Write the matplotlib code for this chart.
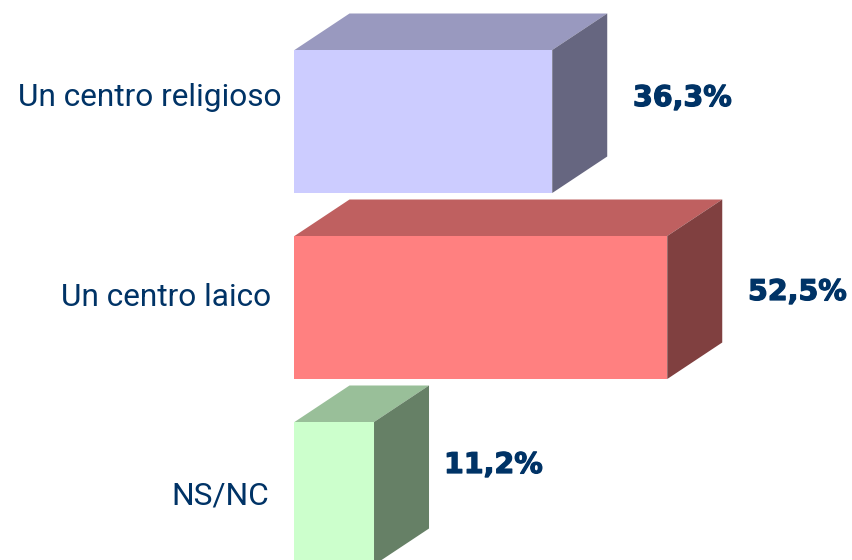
import matplotlib
matplotlib.use("Agg")
import matplotlib.pyplot as plt
import matplotlib.patheffects as pe
from matplotlib.patches import Polygon

categories = ["Un centro religioso", "Un centro laico", "NS/NC"]
values = [36.3, 52.5, 11.2]
value_labels = ["36,3%", "52,5%", "11,2%"]
front_colors = ["#CCCCFF", "#FF8080", "#CCFFCC"]
top_colors = ["#9999BF", "#BF6060", "#99BF99"]
side_colors = ["#666680", "#804040", "#668066"]

W, H = 852, 560
PX_PER_UNIT = 7.1
PX_PER_ROW = 186.0
X0 = 294.5
Y0 = 121.5
BAR_H = 143 / PX_PER_ROW
DX = 55 / PX_PER_UNIT
DY = 36.5 / PX_PER_ROW
TEXT_COLOR = "#003366"

# right edge of the category label and baseline, in pixels
label_right = [282, 271, 269]
label_y = [106, 306, 504]
# left edge of the value label and baseline, in pixels
value_x = [633, 748, 444]
value_y = [106, 300, 473]

fig = plt.figure(figsize=(W / 100, H / 100), dpi=100)
ax = fig.add_axes([0, 0, 1, 1])
ax.set_xlim(-X0 / PX_PER_UNIT, (W - X0) / PX_PER_UNIT)
ax.set_ylim((H - Y0) / PX_PER_ROW, -Y0 / PX_PER_ROW)
ax.axis("off")

for i, v in enumerate(values):
    top = i - BAR_H / 2
    bottom = i + BAR_H / 2
    ax.barh(i, v, height=BAR_H, color=front_colors[i], linewidth=0)
    # top face
    ax.add_patch(Polygon([(0, top), (v, top), (v + DX, top - DY), (DX, top - DY)],
                         closed=True, facecolor=top_colors[i], linewidth=0))
    # side face
    ax.add_patch(Polygon([(v, top), (v + DX, top - DY), (v + DX, bottom - DY), (v, bottom)],
                         closed=True, facecolor=side_colors[i], linewidth=0))

    ax.text((label_right[i] - X0) / PX_PER_UNIT, (label_y[i] - Y0) / PX_PER_ROW,
            categories[i], ha="right", va="baseline", fontsize=22.8,
            family="Roboto", color=TEXT_COLOR)
    # DejaVu bold is a little lighter than the original, thicken it with a stroke
    ax.text((value_x[i] - X0) / PX_PER_UNIT, (value_y[i] - Y0) / PX_PER_ROW,
            value_labels[i], ha="left", va="baseline", fontsize=20.5,
            family="DejaVu Sans", fontweight="bold", color=TEXT_COLOR,
            path_effects=[pe.withStroke(linewidth=0.9, foreground=TEXT_COLOR)])

fig.savefig("out.png", dpi=100)
